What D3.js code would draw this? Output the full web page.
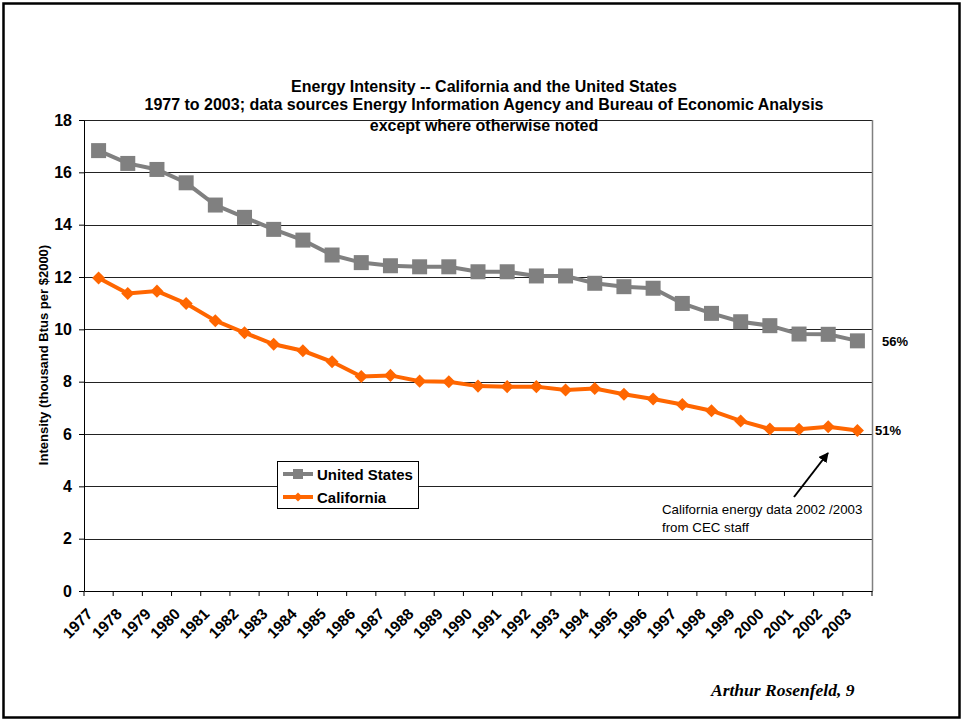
<!DOCTYPE html>
<html><head><meta charset="utf-8">
<script src="https://cdn.jsdelivr.net/npm/d3@7"></script>
<style>body{margin:0;background:#fff}svg{display:block}</style>
</head><body>
<svg id="c" width="963" height="721"></svg>
<script>
const years = ["1977","1978","1979","1980","1981","1982","1983","1984","1985","1986","1987","1988","1989","1990","1991","1992","1993","1994","1995","1996","1997","1998","1999","2000","2001","2002","2003"];
const usValues = [16.83,16.34,16.11,15.6,14.75,14.28,13.82,13.41,12.84,12.55,12.43,12.39,12.39,12.2,12.2,12.04,12.04,11.76,11.63,11.57,10.99,10.61,10.29,10.14,9.82,9.81,9.56];
const caValues = [11.96,11.37,11.46,10.99,10.33,9.87,9.43,9.18,8.76,8.2,8.24,8.02,8.0,7.83,7.81,7.81,7.68,7.74,7.52,7.34,7.13,6.89,6.5,6.19,6.18,6.28,6.13];
const yTicks = [0,2,4,6,8,10,12,14,16,18];
const titleLines = ["Energy Intensity -- California and the United States","1977 to 2003; data sources Energy Information Agency and Bureau of Economic Analysis","except where otherwise noted"];

const svg = d3.select("#c");
const L=84,R=872,T=120,B=591;
const x = d3.scaleBand().domain(years).range([L,R]);
const y = d3.scaleLinear().domain([0,18]).range([B,T]);
const font = "Arial, 'Liberation Sans', sans-serif";

// outer frame
svg.append("rect").attr("x",3.5).attr("y",3.5).attr("width",956).attr("height",714)
  .attr("fill","none").attr("stroke","#000").attr("stroke-width",2.5);

// gridlines
svg.append("g").selectAll("line").data(yTicks.filter(d=>d>0)).join("line")
  .attr("x1",L).attr("x2",R).attr("y1",d=>Math.round(y(d))+0.5).attr("y2",d=>Math.round(y(d))+0.5)
  .attr("stroke","#222").attr("stroke-width",1.2);
// right border
svg.append("line").attr("x1",R+0.5).attr("x2",R+0.5).attr("y1",T).attr("y2",B).attr("stroke","#808080").attr("stroke-width",1.5);

// y axis
const ya = svg.append("g").attr("transform",`translate(${L},0)`)
  .call(d3.axisLeft(y).tickValues(yTicks).tickSize(5).tickPadding(7).tickSizeOuter(0));
ya.select(".domain").attr("stroke","#000");
ya.selectAll(".tick line").attr("stroke","#000");
ya.selectAll("text").attr("font-family",font).attr("font-weight","bold").attr("font-size",16).attr("fill","#000");

// x axis
const xa = svg.append("g").attr("transform",`translate(0,${B})`)
  .call(d3.axisBottom(x).tickSize(0).tickSizeOuter(0));
xa.select(".domain").attr("stroke","#000");
xa.selectAll(".tick line").remove();
const tickPos = d3.range(years.length+1).map(i=>L+i*x.step());
xa.selectAll("line.sep").data(tickPos).join("line").attr("class","sep")
  .attr("x1",d=>d).attr("x2",d=>d).attr("y1",0).attr("y2",5).attr("stroke","#000");
xa.selectAll(".tick text").attr("font-family",font).attr("font-weight","bold").attr("font-size",15.5)
  .attr("fill","#000").attr("text-anchor","end").attr("dy",0)
  .attr("transform","translate(-5,24) rotate(-45)").attr("y",0).attr("x",0);

// y-axis title
svg.append("text").attr("transform","translate(48,355) rotate(-90)").attr("text-anchor","middle")
  .attr("font-family",font).attr("font-weight","bold").attr("font-size",13).text("Intensity (thousand Btus per $2000)");

// title
svg.append("g").selectAll("text").data(titleLines).join("text")
  .attr("x",484).attr("y",(d,i)=>[92,110,131][i]).attr("text-anchor","middle")
  .attr("font-family",font).attr("font-weight","bold").attr("font-size",16).text(d=>d);

const cx = d=>x(d)+x.bandwidth()/2;
const line = d3.line().x(d=>cx(d[0])).y(d=>y(d[1]));
const us = years.map((yr,i)=>[yr,usValues[i]]);
const ca = years.map((yr,i)=>[yr,caValues[i]]);

svg.append("path").datum(us).attr("d",line).attr("fill","none").attr("stroke","#808080").attr("stroke-width",4);
svg.append("g").selectAll("rect").data(us).join("rect")
  .attr("x",d=>cx(d[0])-7.5).attr("y",d=>y(d[1])-7.5).attr("width",15).attr("height",15).attr("fill","#808080");

svg.append("path").datum(ca).attr("d",line).attr("fill","none").attr("stroke","#FF6600").attr("stroke-width",4);
svg.append("g").selectAll("path").data(ca).join("path")
  .attr("d", d3.symbol().type(d3.symbolSquare).size(85))
  .attr("transform",d=>`translate(${cx(d[0])},${y(d[1])}) rotate(45)`).attr("fill","#FF6600");

// end labels
svg.append("text").attr("x",882).attr("y",346).attr("font-family",font).attr("font-weight","bold").attr("font-size",13).text("56%");
svg.append("text").attr("x",875).attr("y",435).attr("font-family",font).attr("font-weight","bold").attr("font-size",13).text("51%");

// legend
const lg = svg.append("g");
lg.append("rect").attr("x",277.5).attr("y",461.5).attr("width",141).attr("height",47).attr("fill","#fff").attr("stroke","#000");
const legItems=[{n:"United States",c:"#808080",s:"sq"},{n:"California",c:"#FF6600",s:"di"}];
legItems.forEach((it,i)=>{
  const yy = 474 + i*23;
  lg.append("line").attr("x1",283).attr("x2",313).attr("y1",yy).attr("y2",yy).attr("stroke",it.c).attr("stroke-width",4);
  if(it.s==="sq") lg.append("rect").attr("x",293).attr("y",yy-5).attr("width",10).attr("height",10).attr("fill",it.c);
  else lg.append("path").attr("d",d3.symbol().type(d3.symbolSquare).size(40)).attr("transform",`translate(298,${yy}) rotate(45)`).attr("fill",it.c);
  lg.append("text").attr("x",317).attr("y",yy+5.5).attr("font-family",font).attr("font-weight","bold").attr("font-size",15).text(it.n);
});

// annotation
svg.append("defs").append("marker").attr("id","ah").attr("viewBox","0 0 10 10").attr("refX",9).attr("refY",5)
  .attr("markerWidth",5).attr("markerHeight",5).attr("orient","auto")
  .append("path").attr("d","M0,0L10,5L0,10z").attr("fill","#000");
svg.append("line").attr("x1",794).attr("y1",497).attr("x2",828).attr("y2",453)
  .attr("stroke","#000").attr("stroke-width",2).attr("marker-end","url(#ah)");
svg.append("text").attr("x",662).attr("y",514).attr("font-family",font).attr("font-size",13.3).text("California energy data 2002 /2003");
svg.append("text").attr("x",662).attr("y",532).attr("font-family",font).attr("font-size",13.3).text("from CEC staff");

// footer
svg.append("text").attr("x",711).attr("y",696).attr("font-family","'Liberation Serif','Times New Roman',serif")
  .attr("font-style","italic").attr("font-weight","bold").attr("font-size",17.5).text("Arthur Rosenfeld, 9");
</script>
</body></html>
